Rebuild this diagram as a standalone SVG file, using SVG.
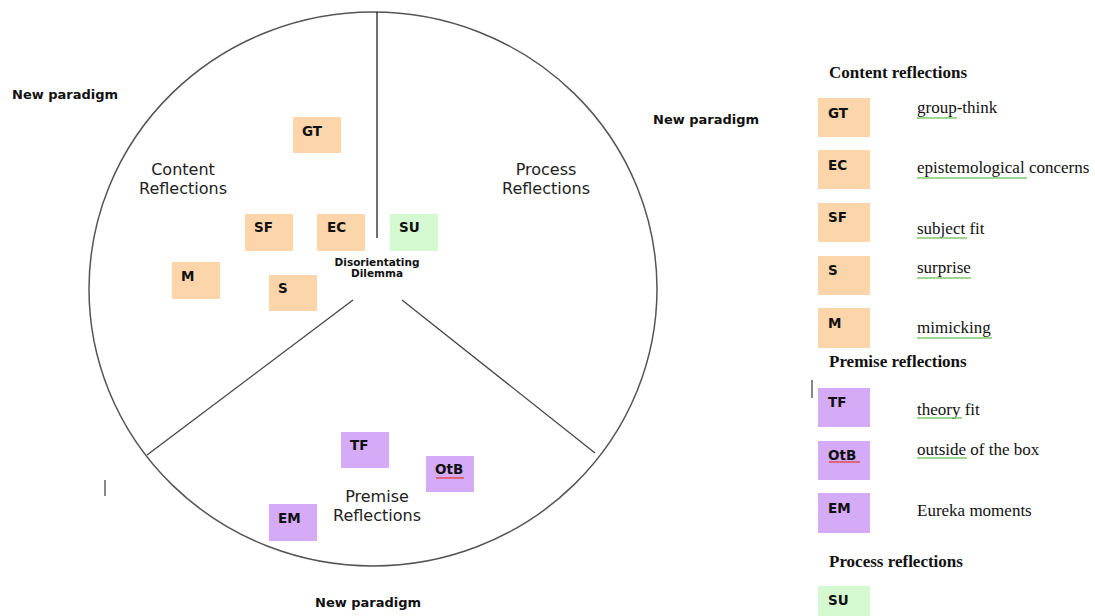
<svg xmlns="http://www.w3.org/2000/svg" width="1095" height="616" viewBox="0 0 1095 616">
<defs>
<pattern id="wg" width="4" height="4" patternUnits="userSpaceOnUse"><path d="M0,3 L1,1 L2,3 L3,1 L4,3" fill="none" stroke="#6fbf5a" stroke-width="0.8"/></pattern>
<pattern id="wr" width="4" height="4" patternUnits="userSpaceOnUse"><path d="M0,3 L1,1 L2,3 L3,1 L4,3" fill="none" stroke="#e04040" stroke-width="0.8"/></pattern>
</defs>
<style>
.c{fill:#FCD5AA}
.p{fill:#D5AAF7}
.g{fill:#D5FAD2}
.bl{font-family:"DejaVu Sans","Verdana",sans-serif;font-weight:bold;font-size:13.5px;fill:#111}
.sec{font-family:"DejaVu Sans","Verdana",sans-serif;font-size:16px;fill:#222;text-anchor:middle}
.np{font-family:"DejaVu Sans","Verdana",sans-serif;font-weight:bold;font-size:13px;fill:#111}
.dd{font-family:"DejaVu Sans","Verdana",sans-serif;font-weight:bold;font-size:10.5px;fill:#111;text-anchor:middle}
.hd{font-family:"Liberation Serif","Times New Roman",serif;font-weight:bold;font-size:17px;fill:#111}
.ds{font-family:"Liberation Serif","Times New Roman",serif;font-size:17px;fill:#111}
</style>
<rect width="1095" height="616" fill="#fff"/>
<g id="connectors" fill="none">
<ellipse cx="373" cy="289" rx="284" ry="277" stroke="#555" stroke-width="1.5"/>
<line x1="377" y1="12" x2="377" y2="238" stroke="#111" stroke-width="1.2"/>
<line x1="353" y1="300" x2="147" y2="455" stroke="#444" stroke-width="1.3"/>
<line x1="402" y1="300" x2="595" y2="453" stroke="#444" stroke-width="1.3"/>
<line x1="105" y1="480" x2="105" y2="496" stroke="#111" stroke-width="1"/>
<line x1="812" y1="380" x2="812" y2="398" stroke="#111" stroke-width="1"/>
</g>
<g id="labels">
<text class="np" x="12" y="99">New paradigm</text>
<text class="np" x="653" y="124">New paradigm</text>
<text class="np" x="315" y="607">New paradigm</text>
<text class="sec" x="183" y="175">Content</text>
<text class="sec" x="183" y="194">Reflections</text>
<text class="sec" x="546" y="175">Process</text>
<text class="sec" x="546" y="194">Reflections</text>
<text class="sec" x="377" y="502">Premise</text>
<text class="sec" x="377" y="521">Reflections</text>
<text class="dd" x="377" y="266">Disorientating</text>
<text class="dd" x="377" y="277">Dilemma</text>
</g>
<g id="node-GT"><rect class="c" x="293" y="117" width="48" height="36"/><text class="bl" x="302" y="136">GT</text></g>
<g id="node-SF"><rect class="c" x="245" y="214" width="48" height="37"/><text class="bl" x="254" y="232">SF</text></g>
<g id="node-EC"><rect class="c" x="317" y="214" width="48" height="37"/><text class="bl" x="327" y="232">EC</text></g>
<g id="node-SU"><rect class="g" x="390" y="214" width="48" height="37"/><text class="bl" x="399" y="232">SU</text></g>
<g id="node-M"><rect class="c" x="172" y="262" width="48" height="37"/><text class="bl" x="181" y="281">M</text></g>
<g id="node-S"><rect class="c" x="269" y="275" width="48" height="36"/><text class="bl" x="278" y="293">S</text></g>
<g id="node-TF"><rect class="p" x="341" y="432" width="48" height="36"/><text class="bl" x="350" y="450">TF</text></g>
<g id="node-OtB"><rect class="p" x="426" y="456" width="48" height="36"/><text class="bl" x="435" y="474">OtB</text><rect x="436" y="475" width="28" height="4" fill="url(#wr)"/></g>
<g id="node-EM"><rect class="p" x="269" y="504" width="48" height="37"/><text class="bl" x="278" y="523">EM</text></g>
<g id="legend">
<text class="hd" x="829" y="78">Content reflections</text>
<g id="leg-GT"><rect class="c" x="818" y="98" width="52" height="39"/><text class="bl" x="828" y="118">GT</text><text class="ds" x="917" y="113">group-think</text><rect x="917" y="115" width="40" height="4" fill="url(#wg)"/></g>
<g id="leg-EC"><rect class="c" x="818" y="150" width="52" height="39"/><text class="bl" x="828" y="170">EC</text><text class="ds" x="917" y="173">epistemological concerns</text><rect x="917" y="176" width="110" height="4" fill="url(#wg)"/></g>
<g id="leg-SF"><rect class="c" x="818" y="203" width="52" height="39"/><text class="bl" x="828" y="222">SF</text><text class="ds" x="917" y="234">subject fit</text><rect x="917" y="236" width="50" height="4" fill="url(#wg)"/></g>
<g id="leg-S"><rect class="c" x="818" y="256" width="52" height="39"/><text class="bl" x="828" y="275">S</text><text class="ds" x="917" y="273">surprise</text><rect x="917" y="276" width="54" height="4" fill="url(#wg)"/></g>
<g id="leg-M"><rect class="c" x="818" y="308" width="52" height="40"/><text class="bl" x="828" y="328">M</text><text class="ds" x="917" y="333">mimicking</text><rect x="917" y="336" width="75" height="4" fill="url(#wg)"/></g>
<text class="hd" x="829" y="367">Premise reflections</text>
<g id="leg-TF"><rect class="p" x="818" y="388" width="52" height="39"/><text class="bl" x="828" y="407">TF</text><text class="ds" x="917" y="415">theory fit</text><rect x="917" y="417" width="45" height="4" fill="url(#wg)"/></g>
<g id="leg-OtB"><rect class="p" x="818" y="441" width="52" height="39"/><text class="bl" x="828" y="460">OtB</text><rect x="829" y="461" width="31" height="4" fill="url(#wr)"/><text class="ds" x="917" y="455">outside of the box</text><rect x="917" y="457" width="50" height="4" fill="url(#wg)"/></g>
<g id="leg-EM"><rect class="p" x="818" y="493" width="52" height="40"/><text class="bl" x="828" y="513">EM</text><text class="ds" x="917" y="516">Eureka moments</text></g>
<text class="hd" x="829" y="567">Process reflections</text>
<g id="leg-SU"><rect class="g" x="818" y="586" width="52" height="30"/><text class="bl" x="828" y="605">SU</text></g>
</g>
</svg>
